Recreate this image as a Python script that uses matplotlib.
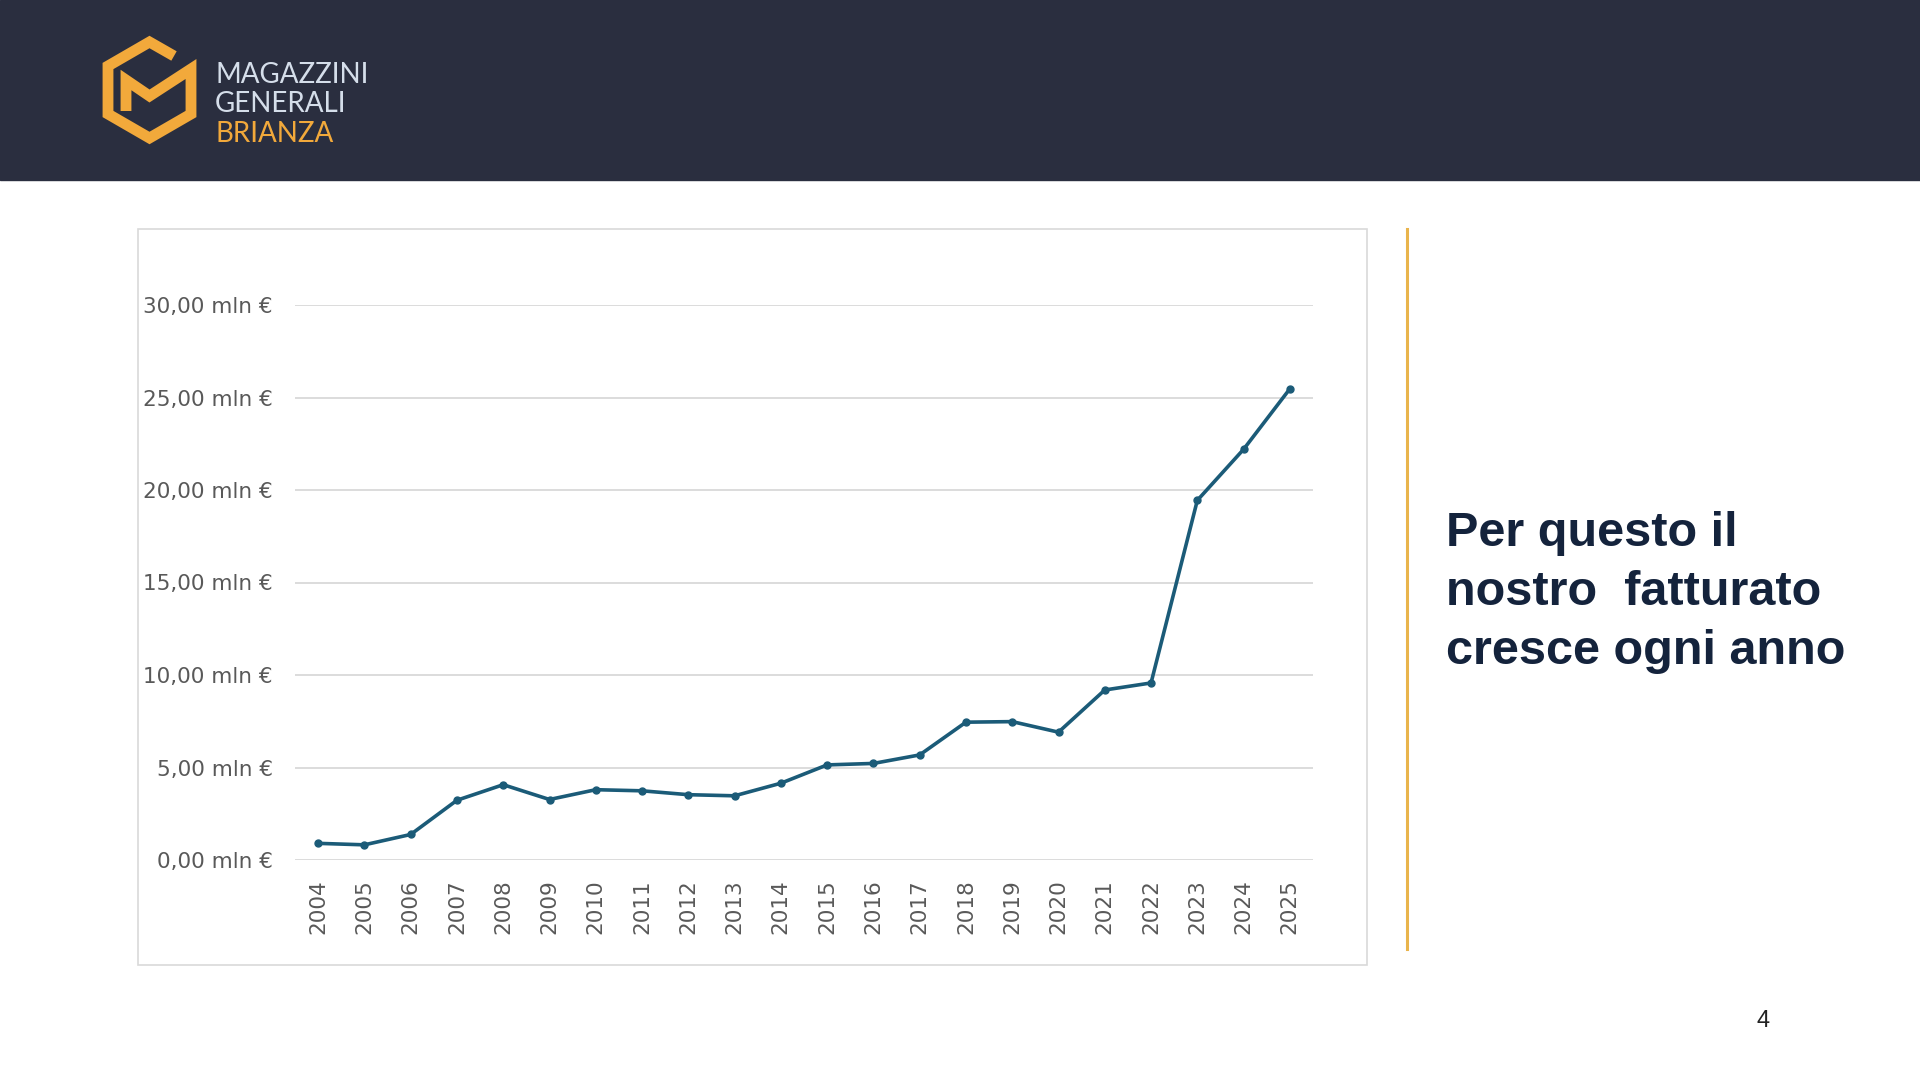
import matplotlib
matplotlib.use('Agg')
import matplotlib.pyplot as plt
from matplotlib.patches import Rectangle
from matplotlib.lines import Line2D

# Fatturato annuo (milioni di euro)
years = [str(y) for y in range(2004, 2026)]
revenue = [0.90, 0.82, 1.38, 3.23, 4.07, 3.27, 3.80, 3.74, 3.53, 3.47, 4.15,
           5.14, 5.22, 5.68, 7.45, 7.48, 6.91, 9.19, 9.57, 19.44, 22.20, 25.47]
y_ticks = [0, 5, 10, 15, 20, 25, 30]
y_labels = [f"{v:,.2f}".replace('.', ',') + " mln €" for v in y_ticks]

headline = ["Per questo il", "nostro  fatturato", "cresce ogni anno"]
logo_words = ["MAGAZZINI", "GENERALI", "BRIANZA"]

NAVY_BG = '#2a2e3f'
GOLD = '#f2a93b'
LINE_COL = '#1b5b78'
GRID_COL = '#d9d9d9'
TICK_COL = '#595959'

W, H = 1920, 1080
fig = plt.figure(figsize=(W / 100, H / 100), dpi=100)
fig.patch.set_facecolor('white')

# overlay in pixel coordinates for the slide decoration
deco = fig.add_axes([0, 0, 1, 1])
deco.set_xlim(0, W)
deco.set_ylim(H, 0)
deco.axis('off')

deco.add_patch(Rectangle((0, 0), W, 180, color=NAVY_BG, zorder=0))
deco.add_patch(Rectangle((138, 229), 1229, 736, facecolor='white',
                         edgecolor=GRID_COL, lw=1.2, zorder=1))
deco.add_line(Line2D([1407, 1407], [229, 949], color='#e9b44c', lw=2.2, zorder=2))

# logo mark: hexagon with an M inside
logo_x = [174, 149.5, 108, 108, 149.5, 191, 191, 149.5, 126, 126]
logo_y = [56, 42, 66, 114, 138, 114, 69, 96, 80, 111]
deco.add_line(Line2D(logo_x, logo_y, color=GOLD, lw=7.8,
                     solid_joinstyle='miter', solid_capstyle='butt', zorder=3))

for word, yy, col in zip(logo_words, [75, 104, 134], ['#d5deea', '#d5deea', GOLD]):
    deco.text(215, yy, word, color=col, fontsize=20, family='Lato',
              va='center', ha='left', zorder=3)

for i, line in enumerate(headline):
    deco.text(1446, 546 + i * 59, line, color='#14233c', fontsize=35,
              family='Liberation Sans', weight='bold', va='baseline', ha='left')

deco.text(1763, 1021, "4", color='#222222', fontsize=17,
          family='Liberation Sans', ha='center', va='center')

# line chart
ax = fig.add_axes([295 / W, 1 - 860 / H, 1018 / W, 555 / H])
ax.set_facecolor('none')
x = list(range(len(years)))
ax.plot(x, revenue, color=LINE_COL, lw=2.6, marker='o', markersize=5,
        solid_joinstyle='round', zorder=3)
ax.set_xlim(-0.5, len(years) - 0.5)
ax.set_ylim(0, 30)
ax.set_yticks(y_ticks)
ax.set_yticklabels(y_labels)
ax.set_xticks(x)
ax.set_xticklabels(years, rotation=90)
ax.grid(axis='y', color=GRID_COL, lw=1.3)
ax.set_axisbelow(True)
for s in ax.spines.values():
    s.set_visible(False)
ax.tick_params(axis='y', length=0, pad=16, labelsize=15.5, labelcolor=TICK_COL)
ax.tick_params(axis='x', length=0, pad=14, labelsize=15.5, labelcolor=TICK_COL)

fig.savefig('out.png', dpi=100)
